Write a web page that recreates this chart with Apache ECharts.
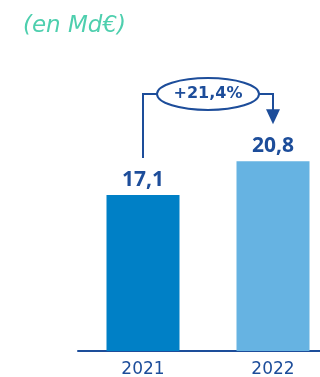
<!DOCTYPE html>
<html>
<head>
<meta charset="utf-8">
<script src="https://cdn.jsdelivr.net/npm/echarts@6/dist/echarts.min.js"></script>
<style>
  html, body { margin: 0; padding: 0; background: #fff; }
  #chart { width: 320px; height: 377px; }
</style>
</head>
<body>
<div id="chart"></div>
<script>
  // données
  var years = ['2021', '2022']
  var values = [17.1, 20.8]
  var valueLabels = ['17,1', '20,8']
  var growthLabel = '+21,4%'
  var unitLabel = '(en Md€)'

  var barColors = ['#0080c6', '#66b3e2']
  var darkBlue = '#1d4d9a'

  var chart = echarts.init(document.getElementById('chart'))

  chart.setOption({
    animation: false,
    title: {
      text: unitLabel,
      left: 18,
      top: 10,
      textStyle: {
        fontFamily: 'DejaVu Sans',
        fontStyle: 'italic',
        fontWeight: 'normal',
        fontSize: 23,
        color: '#4ecfae'
      }
    },
    grid: { left: 78, width: 260, top: 123, bottom: 26, outerBoundsMode: 'none' },
    xAxis: {
      type: 'category',
      data: years,
      axisTick: { show: false },
      axisLine: { lineStyle: { color: darkBlue, width: 2 } },
      axisLabel: {
        margin: 10,
        fontFamily: 'DejaVu Sans',
        fontSize: 17,
        color: darkBlue
      }
    },
    yAxis: {
      type: 'value',
      min: 0,
      max: 25,
      show: false,
      splitLine: { show: false }
    },
    series: [{
      type: 'bar',
      barWidth: 73,
      data: values.map(function (v, i) {
        return { value: v, itemStyle: { color: barColors[i] } }
      }),
      label: {
        show: true,
        position: 'top',
        distance: 5,
        formatter: function (p) { return valueLabels[p.dataIndex] },
        fontFamily: 'Noto Sans',
        fontWeight: 'bold',
        fontSize: 21,
        color: darkBlue
      }
    }]
  })

  // annotation de croissance, placée à partir des barres
  var p1 = chart.convertToPixel({ seriesIndex: 0 }, [0, values[0]])
  var p2 = chart.convertToPixel({ seriesIndex: 0 }, [1, values[1]])
  var cy = 94
  var cx = (p1[0] + p2[0]) / 2
  var rx = 51, ry = 16
  chart.setOption({
    graphic: [
      {
        type: 'polyline',
        shape: { points: [[p1[0], p1[1] - 37], [p1[0], cy], [cx - rx, cy]] },
        style: { stroke: darkBlue, lineWidth: 2, fill: null }
      },
      {
        type: 'polyline',
        shape: { points: [[cx + rx, cy], [p2[0], cy], [p2[0], p2[1] - 50]] },
        style: { stroke: darkBlue, lineWidth: 2, fill: null }
      },
      {
        type: 'polygon',
        shape: { points: [[p2[0] - 7, p2[1] - 52], [p2[0] + 7, p2[1] - 52], [p2[0], p2[1] - 37]] },
        style: { fill: darkBlue }
      },
      {
        type: 'ellipse',
        shape: { cx: cx, cy: cy, rx: rx, ry: ry },
        style: { stroke: darkBlue, lineWidth: 2, fill: '#fff' }
      },
      {
        type: 'text',
        x: cx,
        y: cy,
        style: {
          text: growthLabel,
          align: 'center',
          verticalAlign: 'middle',
          fontFamily: 'DejaVu Sans',
          fontWeight: 'bold',
          fontSize: 16,
          fill: darkBlue
        }
      }
    ]
  })
</script>
</body>
</html>
